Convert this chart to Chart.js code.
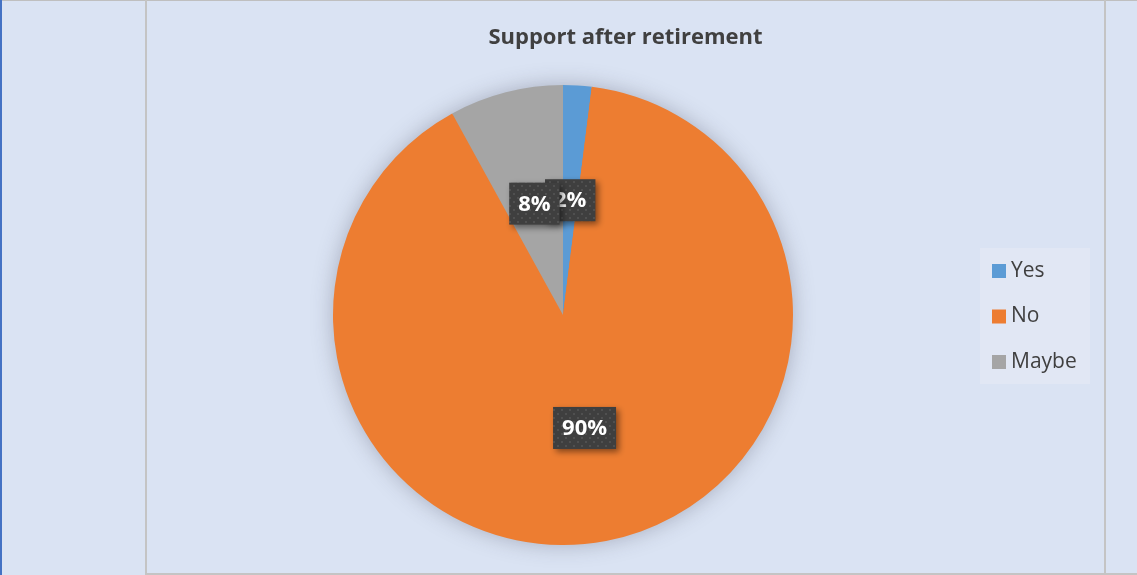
<!DOCTYPE html>
<html>
<head>
<meta charset="utf-8">
<script src="https://cdn.jsdelivr.net/npm/chart.js@4/dist/chart.umd.min.js"></script>
<style>
  html, body { margin: 0; padding: 0; background: #DAE3F3; }
  #wrap { width: 1137px; height: 575px; position: relative; }
</style>
</head>
<body>
<div id="wrap"><canvas id="c" width="1137" height="575"></canvas></div>
<script>
// Survey answers
const categories = ['Yes', 'No', 'Maybe'];
const shares = [2, 90, 8];
const sliceColors = ['#5B9BD5', '#ED7D31', '#A5A5A5'];
const chartTitle = 'Support after retirement';

const FONT = '"Open Sans", "Noto Sans", sans-serif';
const TEXT = '#404040';

// Dotted dark fill used behind the value labels
function makeDotPattern(ctx) {
  const p = document.createElement('canvas');
  p.width = 8; p.height = 8;
  const g = p.getContext('2d');
  g.fillStyle = '#3F3F3F';
  g.fillRect(0, 0, 8, 8);
  g.fillStyle = 'rgba(110,110,110,0.45)';
  g.beginPath(); g.arc(2, 2, 1.1, 0, Math.PI * 2); g.fill();
  g.beginPath(); g.arc(6, 6, 1.1, 0, Math.PI * 2); g.fill();
  return ctx.createPattern(p, 'repeat');
}

const frame = {
  id: 'frame',
  beforeDraw(chart) {
    const ctx = chart.ctx;
    const W = chart.width, H = chart.height;
    ctx.save();
    ctx.fillStyle = '#DAE3F3';
    ctx.fillRect(0, 0, W, H);
    // outer lines
    ctx.fillStyle = '#BFBFBF';
    ctx.fillRect(0, 0, W, 1);
    ctx.fillStyle = '#C4C4C4';
    ctx.fillRect(145, 0, 2, H);
    ctx.fillRect(1104, 0, 2, H);
    ctx.fillRect(145, H - 2, W - 145, 2);
    ctx.fillStyle = '#4472C4';
    ctx.fillRect(0, 0, 2, H);
    // title
    ctx.fillStyle = TEXT;
    ctx.font = 'bold 22px ' + FONT;
    ctx.textAlign = 'center';
    ctx.textBaseline = 'middle';
    ctx.fillText(chartTitle, 625.5, 38);
    ctx.restore();
  },
  beforeDatasetsDraw(chart) {
    // soft glow behind the pie
    const arc = chart.getDatasetMeta(0).data[0];
    if (!arc) return;
    const ctx = chart.ctx;
    ctx.save();
    ctx.shadowColor = 'rgba(60,60,80,0.35)';
    ctx.shadowBlur = 22;
    ctx.fillStyle = '#ED7D31';
    ctx.beginPath();
    ctx.arc(arc.x, arc.y, arc.outerRadius - 1, 0, Math.PI * 2);
    ctx.fill();
    ctx.restore();
  },
  afterDatasetsDraw(chart) {
    const ctx = chart.ctx;
    const meta = chart.getDatasetMeta(0);
    const pattern = makeDotPattern(ctx);
    ctx.save();
    ctx.font = 'bold 22px ' + FONT;
    ctx.textAlign = 'center';
    ctx.textBaseline = 'middle';
    meta.data.forEach((el, i) => {
      const pt = el.getCenterPoint();
      const txt = shares[i] + '%';
      const w = ctx.measureText(txt).width + 18;
      const h = 42;
      const x = pt.x - w / 2, y = pt.y - h / 2;
      ctx.save();
      ctx.shadowColor = 'rgba(0,0,0,0.45)';
      ctx.shadowBlur = 6;
      ctx.shadowOffsetX = 3;
      ctx.shadowOffsetY = 3;
      ctx.fillStyle = pattern;
      ctx.fillRect(x, y, w, h);
      ctx.restore();
      ctx.fillStyle = '#FFFFFF';
      ctx.fillText(txt, pt.x, pt.y + 1);
    });
    ctx.restore();

    // legend
    ctx.save();
    ctx.fillStyle = '#E1E7F4';
    ctx.fillRect(980, 248, 110, 136);
    ctx.font = '21px ' + FONT;
    ctx.textAlign = 'left';
    ctx.textBaseline = 'middle';
    categories.forEach((name, i) => {
      const cy = 271 + i * 45.5;
      ctx.fillStyle = sliceColors[i];
      ctx.fillRect(992, cy - 7, 14, 14);
      ctx.fillStyle = TEXT;
      ctx.fillText(name, 1011, cy);
    });
    ctx.restore();
  }
};

new Chart(document.getElementById('c'), {
  type: 'pie',
  data: {
    labels: categories,
    datasets: [{
      data: shares,
      backgroundColor: sliceColors,
      borderWidth: 0
    }]
  },
  options: {
    responsive: false,
    animation: false,
    layout: { padding: { left: 333, right: 344, top: 85, bottom: 30 } },
    plugins: {
      legend: { display: false },
      title: { display: false },
      tooltip: { enabled: false }
    }
  },
  plugins: [frame]
});
</script>
</body>
</html>
